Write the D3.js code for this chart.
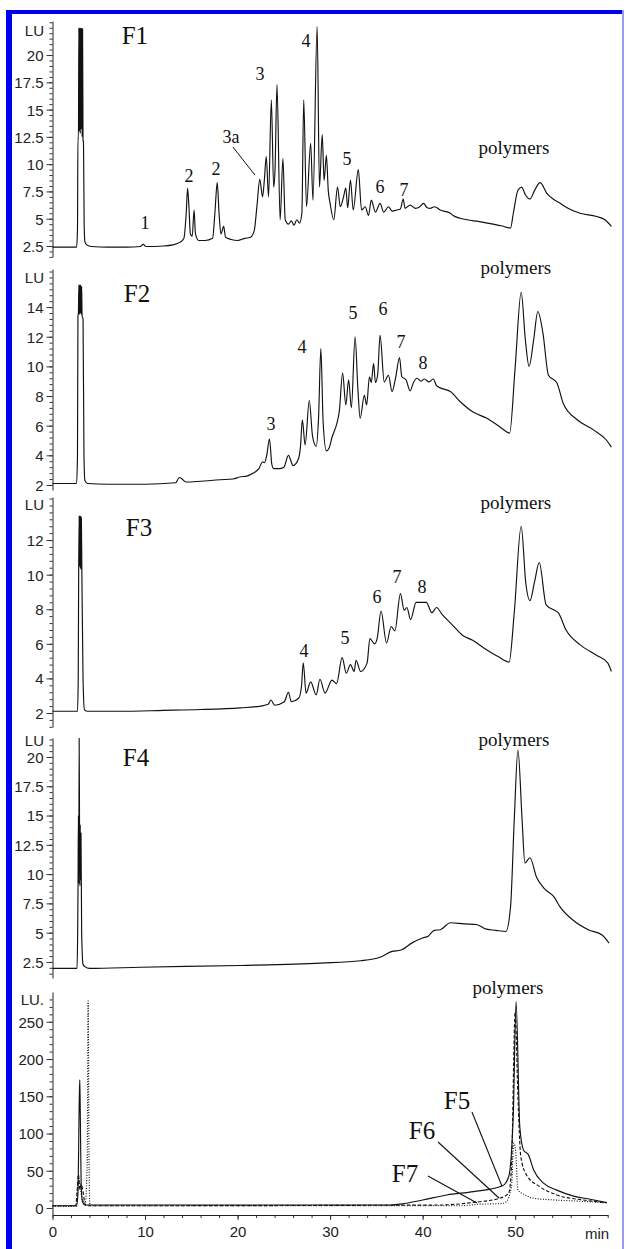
<!DOCTYPE html>
<html>
<head>
<meta charset="utf-8">
<script src="https://cdn.jsdelivr.net/npm/d3@7"></script>
<style>
  body { margin: 0; background: #fff; }
  svg { display: block; }
  .tick text { font-family: "Liberation Sans", Arial, sans-serif; font-size: 15px; fill: #222; }
  .tick line { stroke: #333; }
  .lbl { font-family: "Liberation Serif", "Times New Roman", serif; fill: #111; }
</style>
</head>
<body>
<div id="viz"></div>
<script>
// traces: [minutes, LU]
let f1Trace = [[0,2.4],[2.6,2.4],[2.7,4],[2.75,12.5],[2.8,12.3],[2.85,22.5],[2.9,13],[2.95,22.5],[3.0,12.8],[3.05,22.5],[3.1,13.2],[3.15,22.5],[3.2,12.5],[3.25,22.4],[3.3,12.2],[3.35,12.0],[3.42,4.5],[3.5,2.9],[3.7,2.6],[4.2,2.45],[6,2.4],[8,2.4],[9.5,2.45],[9.8,2.65],[10.1,2.45],[12,2.5],[13.0,2.6],[13.8,2.85],[14.2,3.2],[14.45,5.5],[14.6,7.8],[14.75,6.0],[14.9,3.6],[15.1,3.4],[15.3,5.8],[15.45,3.6],[15.8,3.0],[16.5,3.0],[17.3,3.2],[17.55,5.5],[17.8,8.3],[18.0,5.5],[18.2,3.6],[18.5,4.3],[18.7,3.3],[19.3,3.1],[20.0,3.0],[20.8,3.2],[21.4,3.3],[21.8,3.9],[22.1,6.2],[22.4,8.6],[22.7,7.0],[22.9,8.6],[23.1,10.7],[23.35,7.0],[23.65,15.9],[23.9,7.9],[24.05,9.5],[24.26,17.3],[24.6,4.9],[24.9,10.5],[25.15,4.9],[25.5,4.5],[25.8,4.8],[26.1,4.4],[26.4,4.9],[26.7,4.6],[26.95,5.5],[27.15,15.9],[27.45,6.1],[27.9,11.9],[28.15,6.7],[28.6,22.6],[28.85,7.9],[29.15,12.7],[29.35,8.5],[29.6,10.8],[29.8,7.6],[30.0,6.4],[30.4,4.9],[30.8,7.9],[31.1,6.1],[31.45,7.0],[31.7,7.8],[31.9,6.0],[32.2,8.55],[32.5,5.8],[33.05,9.5],[33.4,5.8],[33.8,6.1],[34.15,5.3],[34.45,6.7],[34.9,5.6],[35.4,6.4],[35.8,5.6],[36.3,6.1],[36.7,5.7],[37.2,5.8],[37.6,5.9],[37.9,6.8],[38.1,5.95],[38.65,6.25],[39.2,5.95],[39.7,6.1],[40.1,6.4],[40.5,6.0],[40.8,5.95],[41.3,6.1],[41.9,5.8],[43.0,5.5],[43.3,5.3],[44.8,4.9],[46.0,4.75],[47.0,4.6],[48.5,4.35],[49.5,4.15],[49.8,5.5],[50.3,7.6],[50.7,7.9],[51.1,7.2],[51.6,6.8],[52.1,7.6],[52.7,8.3],[53.4,7.35],[54.1,6.8],[54.7,6.5],[55.6,6.0],[57.0,5.5],[58.8,5.2],[59.7,4.9],[60.4,4.3]];

let f2Trace = [[0,2.1],[2.6,2.1],[2.7,4],[2.75,13.4],[2.8,13.6],[2.85,15.5],[2.9,13.5],[2.95,15.5],[3.0,13.6],[3.05,15.5],[3.1,13.5],[3.15,15.4],[3.2,13.4],[3.3,13.2],[3.4,4],[3.5,2.3],[3.8,2.1],[6,2.05],[10,2.05],[13.3,2.15],[13.7,2.5],[14.0,2.4],[14.4,2.2],[16,2.25],[18.1,2.35],[19.5,2.4],[20.3,2.55],[21.0,2.6],[21.7,2.8],[22.3,3.1],[22.7,3.55],[22.9,3.5],[23.15,4.0],[23.45,5.1],[23.7,3.4],[23.9,3.1],[24.5,3.1],[25.0,3.2],[25.5,4.0],[26.0,3.3],[26.6,3.8],[26.8,4.6],[27.0,6.4],[27.3,4.7],[27.75,7.7],[28.1,5.3],[28.5,4.6],[28.75,6.5],[29.0,11.2],[29.25,6.2],[29.6,4.3],[29.9,4.5],[30.2,5.2],[30.75,6.2],[31.0,7.0],[31.35,9.55],[31.7,7.4],[32.0,9.1],[32.3,7.2],[32.7,12.0],[33.0,8.5],[33.25,6.5],[33.7,8.05],[33.95,7.4],[34.25,9.3],[34.45,8.9],[34.7,10.2],[34.9,8.9],[35.15,9.5],[35.4,12.1],[35.85,8.95],[36.3,9.4],[36.7,8.3],[37.1,9.3],[37.5,10.6],[37.75,9.3],[38.2,9.1],[38.65,8.35],[39.0,8.9],[39.4,9.2],[39.8,9.0],[40.2,9.15],[40.7,8.95],[41.15,9.15],[41.5,8.7],[41.9,8.55],[43.0,8.3],[44.1,7.6],[45.5,6.9],[46.95,6.5],[48.4,5.9],[49.4,5.5],[50.0,9.95],[50.65,15.0],[51.1,11.8],[51.5,10.0],[52.0,11.8],[52.45,13.7],[53.0,12.25],[53.6,9.4],[54.5,8.9],[55.2,7.5],[56.7,6.4],[58.5,5.7],[59.9,5.0],[60.4,4.55]];

let f3Trace = [[0,2.1],[2.7,2.1],[2.78,4],[2.83,10.3],[2.88,13.4],[2.92,10.5],[2.96,13.4],[3.0,10.4],[3.04,13.4],[3.08,10.3],[3.12,13.3],[3.17,10.3],[3.3,4],[3.45,2.2],[3.8,2.1],[7.3,2.1],[12,2.15],[16,2.2],[20.3,2.3],[22.5,2.4],[23.3,2.5],[23.6,2.75],[24.0,2.45],[25.05,2.65],[25.5,3.2],[25.8,2.65],[26.6,2.85],[26.9,3.5],[27.1,4.9],[27.4,3.15],[27.9,3.8],[28.5,3.05],[28.9,3.95],[29.45,3.15],[30.2,3.9],[30.7,3.7],[31.3,5.2],[31.75,4.3],[32.2,4.8],[32.6,4.4],[32.8,5.05],[33.3,4.4],[34.0,4.9],[34.3,6.3],[34.8,6.0],[35.1,6.35],[35.5,7.9],[36.1,6.05],[36.6,7.0],[37.0,6.75],[37.6,8.9],[38.0,7.95],[38.3,8.1],[38.7,7.4],[39.3,8.4],[40.4,8.4],[41.0,7.8],[41.5,8.1],[42.1,7.7],[43.2,7.1],[44.3,6.5],[45.4,6.2],[46.65,5.75],[48.2,5.25],[49.35,4.95],[49.9,7.8],[50.65,12.8],[51.15,9.5],[51.6,8.5],[52.1,9.6],[52.6,10.7],[53.35,8.25],[54.2,7.95],[54.65,7.8],[55.5,6.8],[57.0,5.95],[58.75,5.35],[60.0,4.9],[60.4,4.4]];

let f4Trace = [[0,1.95],[2.65,1.95],[2.72,5],[2.76,9],[2.8,15],[2.84,9.2],[2.88,21.6],[2.92,14.5],[2.96,9],[3.0,14.2],[3.04,9.5],[3.08,13.5],[3.15,5],[3.3,2.3],[3.5,2.1],[4,1.95],[9.5,2.05],[20.3,2.2],[29,2.4],[33.3,2.6],[35.4,2.9],[36.7,3.4],[37.6,3.5],[38.9,4.15],[40.0,4.55],[40.6,4.7],[41.25,5.2],[41.9,5.25],[43.0,5.85],[44.5,5.75],[45.8,5.7],[46.9,5.3],[47.9,5.2],[49.0,5.1],[49.5,7.2],[49.9,14.6],[50.3,20.6],[50.75,14.6],[51.05,10.95],[51.6,11.4],[52.3,9.75],[53.1,8.8],[54.2,8.05],[54.85,7.2],[56.2,6.1],[57.9,5.25],[59.4,4.8],[60.15,4.1]];

let f5Trace = [[0,3],[2.6,3],[2.75,20],[2.9,150],[2.95,172],[3.0,130],[3.1,30],[3.25,8],[3.5,4],[10,4],[20,4],[30,4],[36.5,4],[38,6],[40.0,10.7],[42.6,17.5],[45.5,22],[48.6,29.5],[49.3,42],[49.8,127],[50.1,277],[50.5,109],[50.9,78],[51.45,71],[52.0,51],[53.1,33],[54.5,24],[56.3,16],[58.1,11.7],[59.9,7.2]];
let f6Trace = [[0,3],[2.5,3],[2.65,20],[2.8,45],[2.95,25],[3.1,32],[3.3,22],[3.5,6],[3.65,3],[41.9,4],[45.5,7.5],[48.4,13.4],[49.3,20],[49.6,55],[50.0,262],[50.3,150],[50.6,70],[51.2,45],[52.6,29],[54.5,17.5],[57.4,10.7],[59.9,7.2]];
let f7Trace = [[0,2],[2.55,2],[2.7,25],[2.85,40],[3.0,30],[3.2,12],[3.55,8],[3.75,60],[3.85,278],[3.95,60],[4.05,3],[44,3],[46,5],[48.5,6],[49.0,8],[49.6,29],[49.85,87],[50.05,76],[50.3,24],[51.0,18],[52,13],[54,11],[57,9],[59.9,7]];

// tick labels
let f1Ticks = [2.5,5,7.5,10,12.5,15,17.5,20];
let f2Ticks = [2,4,6,8,10,12,14];
let f3Ticks = [2,4,6,8,10,12];
let f4Ticks = [2.5,5,7.5,10,12.5,15,17.5,20];
let f5Ticks = [0,50,100,150,200,250];
let timeTicks = [0,10,20,30,40,50];

// annotations: [text, minutes, LU]
let f1Notes = [['1',10.0,4.6],['2',14.75,8.9],['2',17.67,9.55],['3a',19.29,12.49],['3',22.42,18.26],['4',27.39,21.28],['5',31.82,10.47],['6',35.39,7.9],['7',37.98,7.63]];
let f2Notes = [['3',23.61,6.11],['4',26.96,11.3],['5',32.47,13.6],['6',35.71,13.87],['7',37.65,11.64],['8',40.04,10.23]];
let f3Notes = [['4',27.18,5.58],['5',31.61,6.34],['6',35.07,8.7],['7',37.23,9.86],['8',39.93,9.28]];

let W = 626, H = 1249;

let svg = d3.select('#viz').append('svg')
    .attr('width', W)
    .attr('height', H);

// blue frame
svg.append('rect').attr('x',6).attr('y',10).attr('width',617).attr('height',4).attr('fill','#0000ee');
svg.append('rect').attr('x',6).attr('y',10).attr('width',6).attr('height',H-10).attr('fill','#0000ee');
svg.append('rect').attr('x',622).attr('y',10).attr('width',2).attr('height',H-10).attr('fill','#9c9cf5');

let x = d3.scaleLinear().domain([0,60]).range([52.5,607.7]);

let panels = [
  {name:'F1', traces:[f1Trace], dom:[1.49,23.12], rng:[257,21], ticks:f1Ticks, minor:0.5, lu:'LU', luY:31, nameAt:[8.9,21.83], polyAt:[49.87,11.48], notes:f1Notes},
  {name:'F2', traces:[f2Trace], dom:[1.66,16.57], rng:[490,269], ticks:f2Ticks, minor:0.4, lu:'LU', luY:278, nameAt:[9.13,14.95], polyAt:[50.08,16.63], notes:f2Notes},
  {name:'F3', traces:[f3Trace], dom:[1.19,14.49], rng:[727,497], ticks:f3Ticks, minor:0.4, lu:'LU', luY:505, nameAt:[9.35,12.75], polyAt:[50.08,14.14], notes:f3Notes},
  {name:'F4', traces:[f4Trace], dom:[1.13,21.62], rng:[978,738], ticks:f4Ticks, minor:0.5, lu:'LU', luY:741, nameAt:[9.02,20.0], polyAt:[49.87,21.45], notes:[]},
  {name:'', traces:[f5Trace,f6Trace,f7Trace], dom:[-9.4,290], rng:[1215,992], ticks:f5Ticks, minor:10, lu:'LU.', luY:1000, nameAt:null, polyAt:[49.22,295.3], notes:[]}
];

let dashes = [null, '3.5,2', '1,1.6'];

panels.forEach(function(p){
  let y = d3.scaleLinear().domain(p.dom).range(p.rng);
  let g = svg.append('g');

  // minor ticks
  let minorVals = d3.range(Math.ceil(p.dom[0]/p.minor)*p.minor, p.dom[1], p.minor);
  let minorAxis = g.append('g')
      .attr('transform','translate(52.5,0)')
      .call(d3.axisLeft(y).tickValues(minorVals).tickSize(3).tickFormat(''));
  minorAxis.select('.domain').remove();
  minorAxis.selectAll('line').attr('stroke','#444');

  let yAxis = g.append('g')
      .attr('transform','translate(52.5,0)')
      .call(d3.axisLeft(y).tickValues(p.ticks).tickSize(6).tickSizeOuter(0).tickPadding(3)
        .tickFormat(function(d){return String(d);}));
  yAxis.select('.domain').attr('stroke','#222');
  yAxis.selectAll('text').attr('dy','0.36em');

  g.append('text')
    .attr('x',44).attr('y',p.luY).attr('dy','0.36em')
    .attr('text-anchor','end')
    .style('font-family','"Liberation Sans", Arial, sans-serif')
    .style('font-size','15px').style('fill','#222')
    .text(p.lu);

  let line = d3.line()
      .curve(d3.curveMonotoneX)
      .x(function(d){return x(d[0]);})
      .y(function(d){return y(d[1]);});

  p.traces.forEach(function(tr,i){
    g.append('path')
      .datum(tr)
      .attr('d',line)
      .attr('fill','none')
      .attr('stroke','#111')
      .attr('stroke-width',1.15)
      .attr('stroke-linejoin','round')
      .attr('stroke-dasharray',dashes[i]);
  });

  if (p.nameAt) {
    g.append('text').attr('class','lbl')
      .attr('x',x(p.nameAt[0])).attr('y',y(p.nameAt[1])).attr('dy','0.35em')
      .attr('text-anchor','middle').style('font-size','25px')
      .text(p.name);
  }
  g.append('text').attr('class','lbl')
    .attr('x',x(p.polyAt[0])).attr('y',y(p.polyAt[1])).attr('dy','0.3em')
    .attr('text-anchor','middle').style('font-size','19px')
    .text('polymers');

  g.selectAll('.peak').data(p.notes).enter().append('text')
    .attr('class','lbl peak')
    .attr('x',function(d){return x(d[1]);})
    .attr('y',function(d){return y(d[2]);})
    .attr('dy','0.35em')
    .attr('text-anchor','middle')
    .style('font-size','18px')
    .text(function(d){return d[0];});

  p.y = y;
});

// 3a leader
let y1 = panels[0].y;
svg.append('line')
  .attr('x1',x(19.5)).attr('y1',y1(11.57))
  .attr('x2',x(21.88)).attr('y2',y1(9.0))
  .attr('stroke','#111').attr('stroke-width',1);

// F5..F7 labels with leaders
let y5 = panels[4].y;
let fracLabels = [['F5',43.71,145,45.33,128.9,48.57,29.5],['F6',39.93,104.7,41.66,88.6,48.25,13.4],['F7',38.1,47,40.57,43,45.87,6.7]];
fracLabels.forEach(function(d){
  svg.append('text').attr('class','lbl')
    .attr('x',x(d[1])).attr('y',y5(d[2])).attr('dy','0.35em')
    .attr('text-anchor','middle').style('font-size','25px')
    .text(d[0]);
  svg.append('line')
    .attr('x1',x(d[3])).attr('y1',y5(d[4]))
    .attr('x2',x(d[5])).attr('y2',y5(d[6]))
    .attr('stroke','#111').attr('stroke-width',1.1);
});

// time axis
let xMinor = svg.append('g')
    .attr('transform','translate(0,1215)')
    .call(d3.axisBottom(x).tickValues(d3.range(0,61,2)).tickSize(3).tickFormat(''));
xMinor.select('.domain').remove();
xMinor.selectAll('line').attr('stroke','#444');

let xAxis = svg.append('g')
    .attr('transform','translate(0,1215)')
    .call(d3.axisBottom(x).tickValues(timeTicks).tickSize(5).tickSizeOuter(0).tickPadding(6));
xAxis.select('.domain').attr('stroke','#222');

svg.append('text')
  .attr('x',597).attr('y',1234).attr('dy','0.36em')
  .attr('text-anchor','middle')
  .style('font-family','"Liberation Sans", Arial, sans-serif')
  .style('font-size','15px').style('fill','#222')
  .text('min');
</script>
</body>
</html>
